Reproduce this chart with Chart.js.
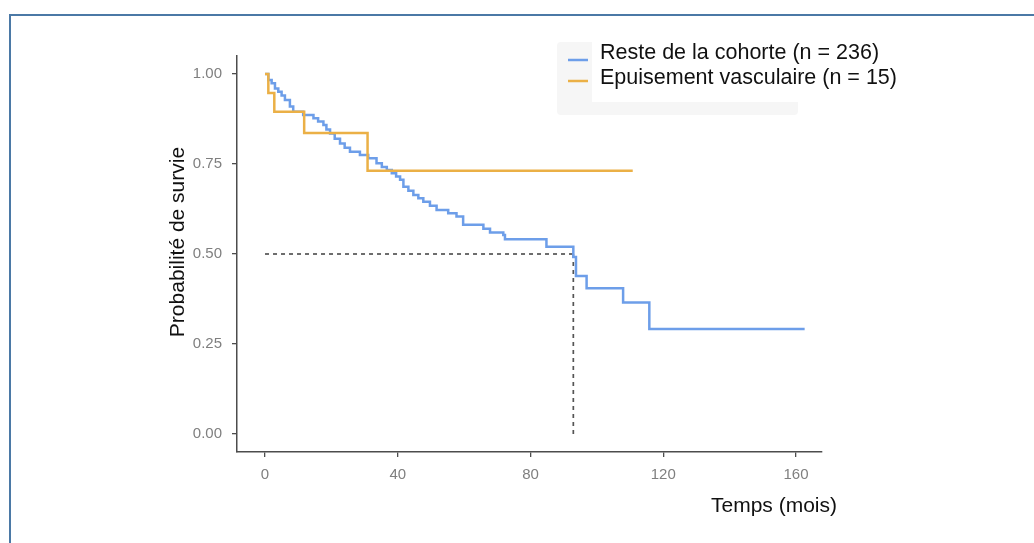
<!DOCTYPE html>
<html><head><meta charset="utf-8">
<script src="https://cdn.jsdelivr.net/npm/chart.js@4/dist/chart.umd.min.js"></script>
<style>
html,body{margin:0;padding:0;background:#fff;overflow:hidden;width:1034px;height:543px;}
#frame{position:absolute;left:9px;top:14px;width:1100px;height:700px;border:2px solid #4b79a6;box-sizing:border-box;}
#wrap{position:absolute;left:0;top:0;width:1034px;height:543px;}
</style></head><body>
<div id="frame"></div>
<div id="wrap"><canvas id="c" width="1034" height="543"></canvas></div>
<script>
// ---- data ----
const blueLabel = 'Reste de la cohorte (n = 236)';
const orangeLabel = 'Epuisement vasculaire (n = 15)';
const blueTimes = [0, 1, 2, 3, 4, 5, 6, 7.5, 8.5, 11.5, 14.6, 16, 17.6, 18.5, 19.6, 21, 22.6, 24, 25.6, 28.6, 31.1, 33.6, 35.2, 36.7, 38.2, 39.5, 40.7, 41.7, 43.2, 44.7, 46.2, 47.7, 49.7, 51.7, 55.2, 57.7, 59.7, 65.8, 67.8, 71.8, 72.3, 84.8, 92.9, 93.7, 96.9, 107.9, 115.8, 162.6];
const blueSurv  = [1.0, 0.983, 0.974, 0.96, 0.951, 0.94, 0.928, 0.91, 0.895, 0.886, 0.877, 0.868, 0.858, 0.846, 0.835, 0.82, 0.807, 0.795, 0.784, 0.775, 0.766, 0.752, 0.742, 0.733, 0.724, 0.715, 0.706, 0.687, 0.676, 0.664, 0.655, 0.645, 0.634, 0.622, 0.613, 0.604, 0.581, 0.57, 0.56, 0.553, 0.541, 0.52, 0.492, 0.439, 0.405, 0.365, 0.292, 0.292];
const orangeTimes = [0, 1.0, 2.8, 11.8, 30.9, 110.8];
const orangeSurv  = [1.0, 0.947, 0.895, 0.836, 0.731, 0.731];
const medianTime = 92.9;
const medianSurv = 0.5;
const xTicks = [0, 40, 80, 120, 160];
const yTicks = [0, 0.25, 0.5, 0.75, 1.0];
const xTitle = 'Temps (mois)';
const yTitle = 'Probabilité de survie';

const FONT = '"Liberation Sans", Arial, sans-serif';
const TICKFONT = '"Liberation Sans Narrow", "Liberation Sans", Arial, sans-serif';
const BLUE = '#6d9ee9';
const ORANGE = '#ebb046';

const pts = (ts, ss) => ts.map((t, i) => ({x: t, y: ss[i]}));

const decorPlugin = {
  id: 'decor',
  afterDraw(chart) {
    const ctx = chart.ctx;
    ctx.save();
    // axis titles
    ctx.fillStyle = '#111';
    ctx.font = '21px ' + FONT;
    ctx.textAlign = 'center';
    ctx.textBaseline = 'middle';
    ctx.fillText(xTitle, 774, 506);
    ctx.translate(178, 242);
    ctx.rotate(-Math.PI / 2);
    ctx.fillText(yTitle, 0, 0);
    ctx.restore();
    // legend
    ctx.save();
    ctx.fillStyle = '#f6f6f6';
    ctx.beginPath();
    ctx.roundRect(557, 42, 241, 73, 4);
    ctx.fill();
    ctx.fillStyle = '#ffffff';
    ctx.fillRect(592, 42, 206, 60);
    const items = chart.data.datasets.filter(d => d.legendY !== undefined);
    items.forEach(d => {
      ctx.strokeStyle = d.borderColor;
      ctx.lineWidth = 2.5;
      ctx.beginPath();
      ctx.moveTo(568, d.legendY);
      ctx.lineTo(588, d.legendY);
      ctx.stroke();
      ctx.fillStyle = '#111';
      ctx.font = '21.5px ' + FONT;
      ctx.textAlign = 'left';
      ctx.textBaseline = 'middle';
      ctx.fillText(d.label, 600, d.legendTextY);
    });
    ctx.restore();
  }
};

new Chart(document.getElementById('c'), {
  type: 'line',
  data: {
    datasets: [
      {label: orangeLabel, data: pts(orangeTimes, orangeSurv), borderColor: ORANGE, borderWidth: 2.5, stepped: true, pointRadius: 0, fill: false, order: 0, legendY: 81, legendTextY: 78},
      {label: blueLabel, data: pts(blueTimes, blueSurv), borderColor: BLUE, borderWidth: 2.5, stepped: true, pointRadius: 0, fill: false, order: 1, legendY: 60, legendTextY: 53},
      {label: 'median-h', data: [{x: 0, y: medianSurv}, {x: medianTime, y: medianSurv}], borderColor: '#555', borderWidth: 1.7, borderDash: [4, 4], pointRadius: 0, fill: false, order: 2},
      {label: 'median-v', data: [{x: medianTime, y: medianSurv}, {x: medianTime, y: 0}], borderColor: '#555', borderWidth: 1.7, borderDash: [4, 4], pointRadius: 0, fill: false, order: 2}
    ]
  },
  options: {
    responsive: false,
    animation: false,
    devicePixelRatio: 1,
    layout: {padding: {top: 56, right: 212, bottom: 0, left: 0}},
    plugins: {legend: {display: false}, tooltip: {enabled: false}},
    scales: {
      x: {
        type: 'linear', min: -8.44, max: 167.83,
        afterBuildTicks: s => { s.ticks = xTicks.map(v => ({value: v})); },
        afterFit: s => { s.height = 91; },
        ticks: {color: '#7f7f7f', font: {family: TICKFONT, size: 15}, padding: 9, maxRotation: 0, autoSkip: false},
        grid: {drawOnChartArea: false, drawTicks: true, tickLength: 5, color: '#4d4d4d', lineWidth: 1.3},
        border: {color: '#4d4d4d', width: 1.5}
      },
      y: {
        type: 'linear', min: -0.05, max: 1.05,
        afterBuildTicks: s => { s.ticks = yTicks.map(v => ({value: v})); },
        afterFit: s => { s.width = 237; },
        ticks: {color: '#7f7f7f', font: {family: TICKFONT, size: 15}, padding: 10, callback: v => v.toFixed(2)},
        grid: {drawOnChartArea: false, drawTicks: true, tickLength: 5, color: '#4d4d4d', lineWidth: 1.3},
        border: {color: '#4d4d4d', width: 1.5}
      }
    }
  },
  plugins: [decorPlugin]
});
</script>
</body></html>
